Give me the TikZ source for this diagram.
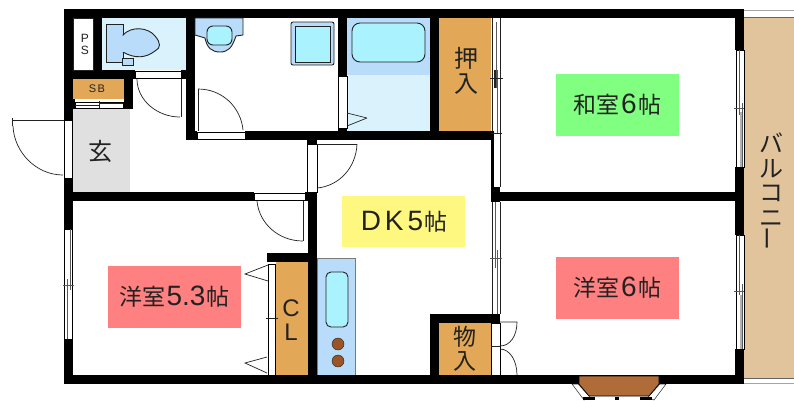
\documentclass[tikz,border=0pt]{standalone}
\usepackage{fontspec}
\setmainfont{Noto Sans CJK JP}[Scale=1]
\newfontfamily\latinf{Liberation Sans}
\newcommand{\jp}[1]{\fontsize{#1}{#1}\selectfont}
\newcommand{\dg}[1]{{\latinf\fontsize{28}{28}\selectfont\kern1.5pt #1\kern1.5pt}}
\definecolor{bluedk}{HTML}{B9DCFA}
\definecolor{bluelt}{HTML}{D9F2FB}
\definecolor{cyanw}{HTML}{A9F2FE}
\definecolor{closet}{HTML}{E2A857}
\definecolor{tan}{HTML}{E2C49C}
\definecolor{gen}{HTML}{E0E0E0}
\definecolor{ink}{HTML}{222222}
\definecolor{bay}{HTML}{B06C38}
\definecolor{burn}{HTML}{9A5426}
\tikzset{
 wall/.style={fill=black,draw=none},
 strip/.style={fill=white,draw=black,line width=.7pt},
 doorline/.style={draw=ink,line width=.7pt},
 fix/.style={draw=ink,line width=.9pt},
 paneline/.style={draw=ink!75,line width=.8pt},
 label/.style={anchor=center,inner sep=0pt,text=ink,align=center},
 tag/.style={anchor=center,inner sep=0pt,text=ink,font=\jp{23},minimum width=123pt,minimum height=62pt}
}
\begin{document}
\begin{tikzpicture}[x=1pt,y=-1pt]
\useasboundingbox (0,0) rectangle (794,400);
\fill[white] (0,0) rectangle (794,400);
% balcony
\draw[draw=gray!70,line width=.6pt] (744,10) -- (794,10);
\fill[tan] (744,17) rectangle (794,378);
\draw[draw=gray!70,line width=.6pt] (744,383) -- (794,383);
\draw[draw=ink!70,line width=.6pt] (744,17) -- (794,17) (744,378) -- (794,378);
% floor fills
\fill[gen] (73,109) rectangle (130,192);
\fill[bluelt] (102,18) rectangle (186,70);
\fill[bluedk] (347,18) rectangle (430,75);
\fill[bluelt] (347,75) rectangle (430,131);
\fill[closet] (439,18) rectangle (491,131);
\fill[closet] (73,79) rectangle (124,99);
\fill[closet] (276,262) rectangle (308,375);
\fill[closet] (439,323) rectangle (491,375);
\draw[fill=bluedk,draw=ink!60,line width=.6pt] (317,258) rectangle (355,375);
% walls
\fill[wall] (64,9) rectangle (744,18);
\fill[wall] (64,375) rectangle (744,384);
\fill[wall] (64,9) rectangle (73,120);
\fill[wall] (64,178) rectangle (73,229);
\fill[wall] (64,339) rectangle (73,384);
\fill[wall] (735,9) rectangle (744,50);
\fill[wall] (735,167) rectangle (744,235);
\fill[wall] (735,349) rectangle (744,384);
\fill[wall] (491,192) rectangle (744,201);
\fill[wall] (491,187) rectangle (500,202);
\fill[wall] (64,192) rectangle (254,201);
\fill[wall] (305,192) rectangle (317,201);
\fill[wall] (308,192) rectangle (317,384);
\fill[wall] (267,253) rectangle (308,262);
\fill[wall] (430,314) rectangle (500,323);
\fill[wall] (430,314) rectangle (439,384);
\fill[wall] (186,18) rectangle (195,140);
\fill[wall] (186,131) rectangle (197,140);
\fill[wall] (245,131) rectangle (491,140);
\fill[wall] (338,18) rectangle (347,76);
\fill[wall] (338,128) rectangle (347,131);
\fill[wall] (430,18) rectangle (439,140);
\fill[wall] (93,18) rectangle (102,70);
\fill[wall] (73,70) rectangle (135,79);
\fill[wall] (181,70) rectangle (186,79);
\fill[wall] (124,79) rectangle (133,109);
\fill[wall] (73,99) rectangle (75,109);
\fill[wall] (307,140) rectangle (317,144);
\draw[draw=ink,line width=.5pt,fill=white] (73,18) rectangle (93,70);
% toilet
\draw[fix,fill=bluedk] (106,24) rectangle (123,62);
\draw[fix,fill=bluedk] (123,35) .. controls (131,26) and (148,27) .. (155,36)
 .. controls (161,43) and (161,48) .. (155,51) .. controls (146,58) and (135,59) .. (123,52) -- cycle;
\draw[fill=bluedk,draw=bluedk] (121,36) rectangle (124,51);
\draw[fix,fill=bluedk] (122,58) rectangle (133,65);
% basin
\draw[fix,fill=bluedk] (195,18) -- (243,18) -- (243,35) -- (236,36) .. controls (232,48) and (228,52) .. (220,52)
 .. controls (212,52) and (207,48) .. (205,38) -- (195,35) -- cycle;
\draw[fix,fill=cyanw,rounded corners=6pt] (207,26) rectangle (232,45);
% washer
\draw[fix,fill=bluedk,rounded corners=2pt] (291,22) rectangle (334,65);
\draw[fix,fill=cyanw] (295,26) rectangle (330,62);
% tub
\draw[fix,fill=cyanw,rounded corners=8pt] (352,23) rectangle (425,62);
% sink and burners
\draw[fix,fill=cyanw,rounded corners=5pt] (326,272) rectangle (348,327);
\draw[draw=ink,fill=burn,line width=.4pt] (338,344) circle (6);
\draw[draw=ink,fill=burn,line width=.4pt] (338,361) circle (6);
% entrance and doors
\draw[strip] (64,120) rectangle (72,178);
\draw[doorline] (12,118) -- (12,126) (12,120) -- (64,120);
\draw[doorline] (13,126) .. controls (14,152) and (36,175) .. (63,175);
\draw[strip] (135,71) rectangle (181,78);
\draw[doorline] (181,79) -- (181,117);
\draw[doorline] (137,79) .. controls (137,100) and (157,117) .. (180,117);
\draw[strip] (197,132) rectangle (245,139);
\draw[doorline] (198,89) -- (198,131);
\draw[doorline] (198,89) .. controls (223,89) and (241,108) .. (243,130);
\draw[strip] (338,76) rectangle (347,128);
\draw[doorline] (367,118) -- (347,113) (367,118) -- (347,126);
\draw[strip] (307,144) rectangle (317,192);
\draw[doorline] (317,144) -- (357,144);
\draw[doorline] (357,144) .. controls (356,168) and (339,186) .. (317,188);
\draw[strip] (254,193) rectangle (305,200);
\draw[doorline] (303,201) -- (303,241);
\draw[doorline] (257,201) .. controls (259,223) and (278,241) .. (303,241);
\draw[strip] (268,264) rectangle (275,375);
\draw[doorline] (266,318) -- (278,318);
\draw[doorline] (268,265) -- (245,274) -- (268,281);
\draw[doorline] (267,357) -- (245,363) -- (267,373);
\draw[strip] (491,323) rectangle (500,375);
\draw[doorline] (491,346) -- (500,346);
\draw[doorline] (500,322) -- (517,322) .. controls (517,336) and (510,346) .. (500,346);
\draw[doorline] (500,349) .. controls (510,349) and (517,361) .. (517,375);
% SB sliding door
\draw[strip] (75,102) rectangle (123,108);
\draw[doorline] (75,105) -- (99,105) (99,101) -- (99,108) (99,103) -- (123,103);
% left window
\draw[strip] (64,229) rectangle (72,339);
\draw[paneline] (70,229) -- (70,290) (67,279) -- (67,339) (63,285) -- (74,285);
% right windows
\draw[strip] (736,50) rectangle (744,167);
\draw[paneline] (739,50) -- (739,115) (742,103) -- (742,167) (734,108) -- (744,108);
\fill[gray!60] (739.5,112) rectangle (741.5,167);
\draw[strip] (736,235) rectangle (744,349);
\draw[paneline] (739,235) -- (739,295) (742,284) -- (742,349) (734,291) -- (744,291);
\fill[gray!60] (739.5,295) rectangle (741.5,349);
% sliding doors, centre wall
\fill[white] (491,18) rectangle (500,187);
\draw[draw=ink,line width=.7pt] (492,18) -- (492,131) (500,18) -- (500,187);
\fill[wall] (491,131) rectangle (493.5,187);
\draw[paneline] (496,22) -- (496,88) (497,70) -- (497,134);
\draw[draw=ink,line width=.8pt] (490,78) -- (503,78) (491,133) -- (502,133);
\draw[draw=ink,line width=1.4pt] (495,70) -- (495,88);
\fill[white] (491.5,202) rectangle (500,314);
\draw[draw=ink,line width=.7pt] (492,202) -- (492,314) (500,202) -- (500,314);
\draw[paneline] (495,202) -- (495,268) (497,250) -- (497,314) (490,258) -- (502,258);
% bay window
\draw[fill=white,draw=ink,line width=.5pt] (572,384) -- (578,384) -- (590,397) -- (584,400) -- cycle;
\draw[fill=white,draw=ink,line width=.5pt] (666,384) -- (660,384) -- (648,397) -- (654,400) -- cycle;
\fill[wall] (583,397) rectangle (595,400);
\fill[wall] (615,397) rectangle (619,400);
\fill[wall] (640,397) rectangle (652,400);
\draw[fill=bay,draw=black,line width=.7pt] (579,376) -- (659,376) -- (659,384) -- (649,396) -- (589,396) -- (579,384) -- cycle;
% labels
\node[tag,fill=green!50!white] (washitsu) at (617.5,105) {和室\dg{6}帖};
\node[tag,fill=yellow!50!white,minimum height=51pt] (dk) at (403.5,221.5) {\dg{D\kern4pt K\kern4pt 5}帖};
\node[tag,fill=red!50!white,minimum width=133pt] (yo53) at (174.5,297) {洋室\dg{5.3}帖};
\node[tag,fill=red!50!white] (yo6) at (617.5,288) {洋室\dg{6}帖};
\node[label,font=\jp{24}] (gen1) at (100,151) {玄};
\node[label,font=\jp{24}] (oshi) at (466,71) {押\\[1pt]入};
\node[label,font=\jp{23}] (mono) at (465,349) {物\\[1pt]入};
\node[label,font={\latinf\fontsize{11}{11}\selectfont}] (sb) at (97,89) {S\kern1.5pt B};
\node[label,font={\latinf\fontsize{12}{12}\selectfont}] (ps) at (85,44) {P\\S};
\node[label,font={\latinf\fontsize{24}{24}\selectfont}] (cl) at (291,320) {C\\L};
\node[label,font=\jp{24}] (balc) at (771,192) {バ\\[.5pt]ル\\[.5pt]コ\\[.5pt]ニ\\[.5pt]\rotatebox{90}{ー}};
\end{tikzpicture}
\end{document}
